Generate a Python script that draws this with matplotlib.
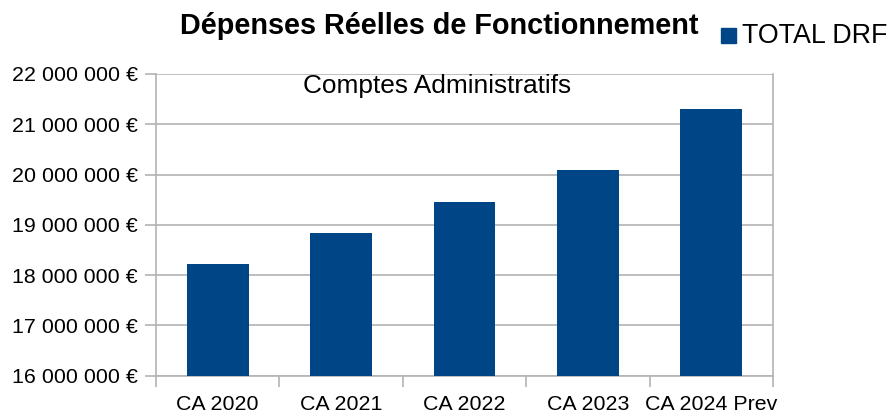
import matplotlib.pyplot as plt
from matplotlib.ticker import FuncFormatter
from matplotlib.patches import Rectangle

plt.rcParams['font.family'] = ['Liberation Sans', 'DejaVu Sans']

categories = ['CA 2020', 'CA 2021', 'CA 2022', 'CA 2023', 'CA 2024 Prev']
totals = [18220000, 18840000, 19450000, 20090000, 21310000]
y_ticks = [16000000, 17000000, 18000000, 19000000, 20000000, 21000000, 22000000]

bar_color = '#004586'
grid_color = '#b3b3b3'

fig = plt.figure(figsize=(8.9, 4.19), dpi=100)
ax = fig.add_axes([0.1753, 0.1033, 0.6932, 0.7201])

xs = range(len(categories))
ax.bar(xs, totals, width=0.5, color=bar_color, zorder=3)

ax.set_xlim(-0.5, len(categories) - 0.5)
ax.set_ylim(16000000, 22000000)
ax.set_yticks(y_ticks)
ax.yaxis.set_major_formatter(FuncFormatter(lambda v, p: f"{int(v):,}".replace(',', ' ') + ' €'))

# categories labelled at centres, ticks at boundaries
ax.set_xticks([i - 0.5 for i in range(len(categories) + 1)])
ax.set_xticklabels([])
ax.set_xticks(list(xs), minor=True)
ax.set_xticklabels(categories, minor=True)
ax.tick_params(axis='x', which='minor', length=0, labelsize=15.4, pad=14)
ax.tick_params(axis='x', which='major', length=8, color=grid_color, width=1.2)
ax.tick_params(axis='y', length=8, color=grid_color, width=1.2, labelsize=15.4, pad=5)

ax.grid(axis='y', color=grid_color, linewidth=1.2, zorder=0)
for side in ['left', 'right', 'bottom']:
    ax.spines[side].set_color(grid_color)
    ax.spines[side].set_linewidth(1.2)
ax.spines['top'].set_visible(False)

fig.text(439 / 890, 1 - 34 / 419, 'Dépenses Réelles de Fonctionnement', ha='center', va='baseline',
         fontsize=20.8, fontweight='bold')
fig.text(437 / 890, 1 - 86 / 419, 'Comptes Administratifs', ha='center',
         va='center', fontsize=18.9)

# legend
fig.patches.append(Rectangle((721 / 890, 1 - 43 / 419), 15 / 890, 15 / 419,
                             transform=fig.transFigure, color=bar_color))
fig.text(742 / 890, 1 - 43 / 419, 'TOTAL DRF', ha='left', va='baseline', fontsize=19.3)

fig.savefig('out.png', dpi=100)
